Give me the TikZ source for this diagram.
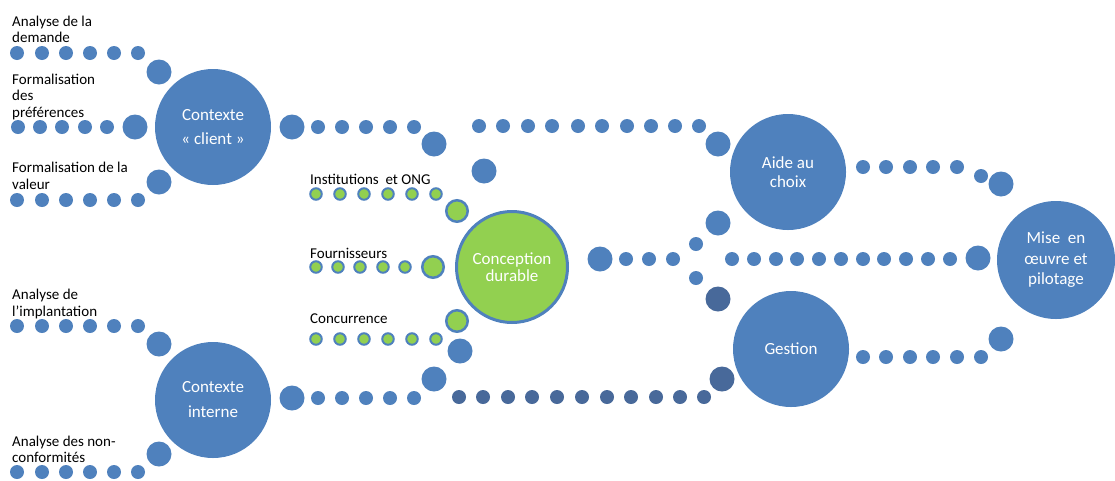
\documentclass[tikz,border=0pt]{standalone}
\usepackage{fontspec}
\setmainfont{Carlito}
\definecolor{cblue}{HTML}{4F81BD}
\definecolor{cdark}{HTML}{48699A}
\definecolor{cgreen}{HTML}{92D050}
\begin{document}
\begin{tikzpicture}[x=1pt,y=-1pt,
 sd/.style={circle,fill=cblue,inner sep=0pt,minimum size=14pt},
 md/.style={circle,fill=cblue,inner sep=0pt,minimum size=25pt},
 sk/.style={circle,fill=cdark,inner sep=0pt,minimum size=14pt},
 mk/.style={circle,fill=cdark,inner sep=0pt,minimum size=25pt},
 sg/.style={circle,fill=cgreen,draw=cblue,line width=2pt,inner sep=0pt,minimum size=11.5pt},
 mg/.style={circle,fill=cgreen,draw=cblue,line width=2.5pt,inner sep=0pt,minimum size=21.5pt},
 big/.style={circle,fill=cblue,inner sep=0pt,minimum size=116pt,text=white,align=center},
 lab/.style={anchor=west,inner sep=0pt,align=left,font=\fontsize{15}{16.5}\selectfont}
]
\useasboundingbox (0,0) rectangle (1115,480);

% big circles
\node[big,font=\fontsize{17}{24}\selectfont] (client) at (213,127) {Contexte\\« client »};
\node[big,font=\fontsize{17}{25}\selectfont] (interne) at (213,400) {Contexte\\interne};
\node[circle,fill=cgreen,draw=cblue,line width=3pt,inner sep=0pt,minimum size=111pt,text=white,align=center,font=\fontsize{17}{17}\selectfont] (conc) at (512,267) {Conception\\durable};
\node[big,font=\fontsize{17}{19}\selectfont] (aide) at (788,172) {Aide au\\choix};
\node[big,font=\fontsize{17}{19}\selectfont] (gestion) at (791,349) {Gestion};
\node[big,minimum size=118pt,font=\fontsize{17}{20.5}\selectfont] (mise) at (1056,260) {Mise\ \ en\\œuvre et\\pilotage};

% left labels
\node[lab] (l1) at (12,29.5) {Analyse de la\\demande};
\node[lab] (l2) at (12,96.5) {Formalisation\\des\\préférences};
\node[lab] (l3) at (12,176) {Formalisation de la\\valeur};
\node[lab] (l4) at (12,304) {Analyse de\\l’implantation};
\node[lab] (l5) at (12,449.5) {Analyse des non-\\conformités};
\node[lab] (l6) at (310,179) {Institutions\ \ et ONG};
\node[lab] (l7) at (310,253) {Fournisseurs};
\node[lab] (l8) at (310,319) {Concurrence};

% left rows
\foreach \x [count=\i] in {17,42,66,90,114,138} {
  \node[sd] (ra\i) at (\x,53) {};
  \node[sd] (rc\i) at (\x,200) {};
  \node[sd] (rd\i) at (\x,326) {};
  \node[sd] (re\i) at (\x,472) {};
}
\foreach \x [count=\i] in {18,40,62,85,107} \node[sd] (rb\i) at (\x,127) {};
\node[md] (ma) at (159,72) {};
\node[md] (mb) at (135,127) {};
\node[md] (mc) at (159,182) {};
\node[md] (md) at (159,344) {};
\node[md] (me) at (159,454) {};

% top centre path
\node[md] (t0) at (292,127) {};
\foreach \x [count=\i] in {318,342,366,390,414} \node[sd] (ta\i) at (\x,127) {};
\node[md] (t1) at (434,144) {};
\node[md] (t2) at (484,171) {};
\foreach \x [count=\i] in {479,503,528,552,578,602,627,651,675,699} \node[sd] (tb\i) at (\x,126) {};
\node[md] (t3) at (718,144) {};

% bottom centre path
\node[md] (b0) at (292,398) {};
\foreach \x [count=\i] in {318,342,366,390,414} \node[sd] (ba\i) at (\x,398) {};
\node[md] (b1) at (434,379) {};
\node[md] (b2) at (460,351) {};
\foreach \x [count=\i] in {459,483,508,532,557,582,607,631,656,680,704} \node[sk] (bb\i) at (\x,397) {};
\node[mk] (b3) at (722,379) {};

% green rows
\foreach \x [count=\i] in {316,340,364,388,412,436} {
  \node[sg] (ga\i) at (\x,194) {};
  \node[sg] (gc\i) at (\x,339) {};
}
\foreach \x [count=\i] in {316,338,360,383,405} \node[sg] (gb\i) at (\x,267) {};
\node[mg] (ga) at (457,211) {};
\node[mg] (gb) at (433,267) {};
\node[mg] (gc) at (457,321) {};

% right of conception
\node[md] (c0) at (600,259) {};
\foreach \x [count=\i] in {626,649,673} \node[sd] (ca\i) at (\x,259) {};
\node[sd] (cu) at (696,244) {};
\node[md] (cu2) at (718,223) {};
\node[sd] (cd) at (696,278) {};
\node[mk] (cd2) at (718,299) {};

% middle row to mise
\foreach \x [count=\i] in {732,754,776,797,819,841,863,884,906,928,950} \node[sd] (mm\i) at (\x,259) {};
\node[md] (mm) at (978,258) {};

% aide to mise
\foreach \x [count=\i] in {863,886,910,933,957} \node[sd] (am\i) at (\x,167) {};
\node[sd] (am6) at (981,176) {};
\node[md] (am) at (1001,184) {};

% gestion to mise
\foreach \x [count=\i] in {863,886,910,933,957,981} \node[sd] (gm\i) at (\x,357) {};
\node[md] (gm) at (1001,339) {};
\end{tikzpicture}
\end{document}
